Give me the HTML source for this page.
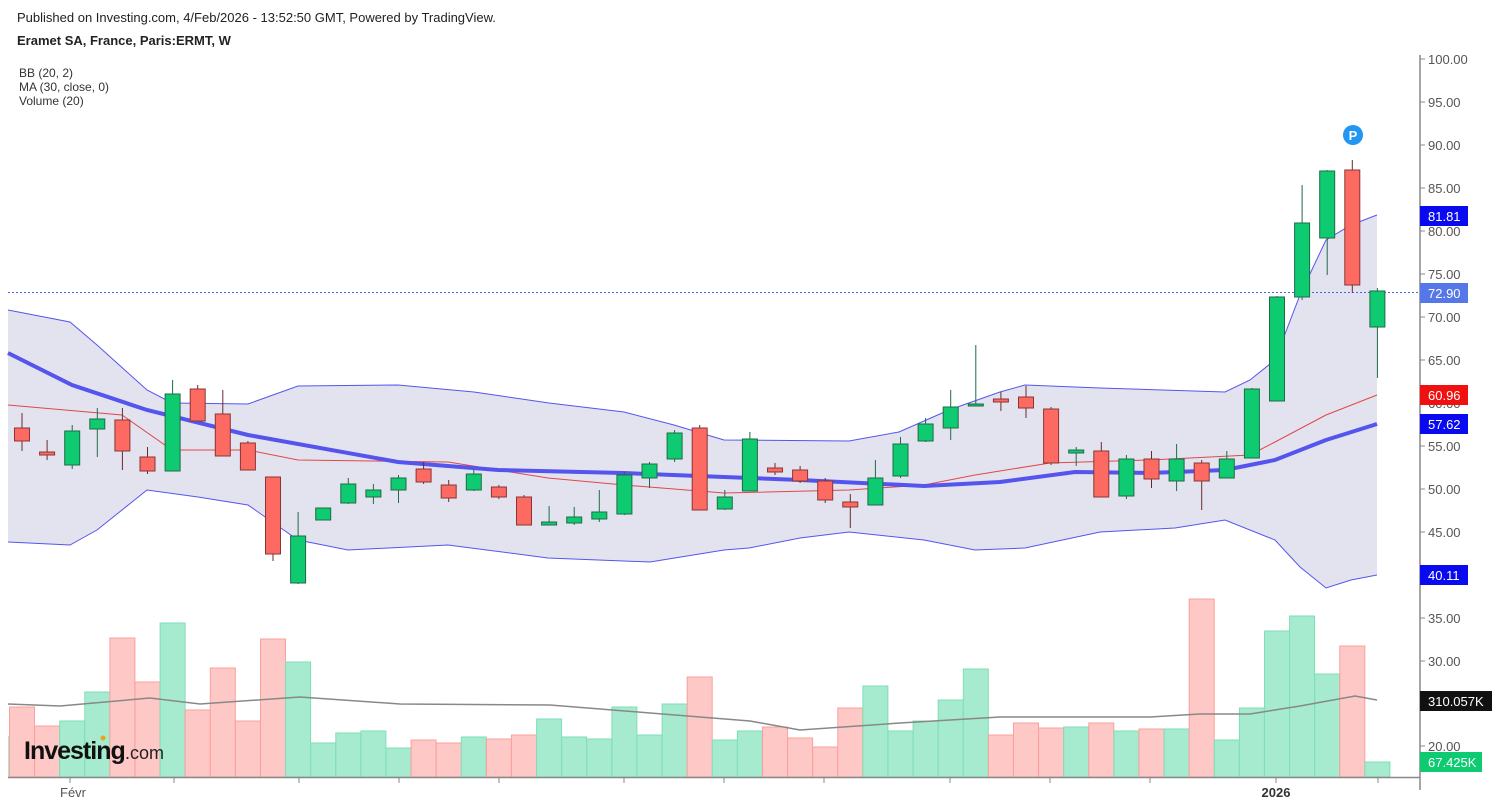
<!DOCTYPE html>
<html><head><meta charset="utf-8"><style>
body{margin:0;background:#fff;width:1500px;height:807px;overflow:hidden;font-family:"Liberation Sans",Arial,sans-serif}
</style></head><body>
<svg id="s" width="1500" height="807" xmlns="http://www.w3.org/2000/svg" font-family="Liberation Sans, Arial, sans-serif"></svg>
<script>
const s=document.getElementById('s');let h='';
h+='<text x="17" y="22" font-size="13" fill="#222">Published on Investing.com, 4/Feb/2026 - 13:52:50 GMT, Powered by TradingView.</text>';
h+='<text x="17" y="45" font-size="13" font-weight="bold" fill="#222">Eramet SA, France, Paris:ERMT, W</text>';
h+='<text x="19" y="77" font-size="12" fill="#333">BB (20, 2)</text><text x="19" y="91" font-size="12" fill="#333">MA (30, close, 0)</text><text x="19" y="105" font-size="12" fill="#333">Volume (20)</text>';
const X=i=>22+i*25.1;
const cl=['r','r','g','g','r','r','g','r','r','r','r','g','g','g','g','g','r','r','g','r','r','g','g','g','g','g','g','r','g','g','r','r','r','r','g','g','g','g','g','r','r','r','g','r','g','r','g','r','g','g','g','g','g','r','g'];
const vt=[707,726,721,692,638,682,623,710,668,721,639,662,743,733,731,748,740,743,737,739,735,719,737,739,707,735,704,677,740,731,727,738,747,708,686,731,721,700,669,735,723,728,727,723,731,729,729,599,740,708,631,616,674,646,762];
h+='<rect x="8" y="736" width="2" height="41" fill="#a6ebcf"/>';
vt.forEach((t,i)=>{const g=cl[i]=='g';h+=`<rect x="${X(i)-12.5}" y="${t}" width="25" height="${777-t}" fill="${g?'#a6ebcf':'#fec8c6'}" stroke="${g?'#7fdfb5':'#fba09c'}" stroke-width="1"/>`;});
const pl=(pts,st,w,f)=>`<polyline points="${pts.map(p=>p.join(',')).join(' ')}" fill="${f||'none'}" stroke="${st}" stroke-width="${w}"/>`;
h+=pl([[8,704],[60,706],[150,698],[200,704],[300,697],[400,704],[550,705],[650,713],[750,721],[800,730],[900,723],[1000,717],[1150,717],[1200,714],[1250,714],[1300,706],[1355,696],[1377,700]],'#888',1.5);
const up=[[8,310],[70,322],[97,345],[147,390],[172,403],[248,404],[298,386],[398,385],[474,392],[549,403],[624,412],[674,425],[724,440],[849,441],[899,432],[949,410],[1000,392],[1025,385],[1100,388],[1225,392],[1250,380],[1275,360],[1300,295],[1326,240],[1351,225],[1377,215]];
const lo=[[8,542],[70,545],[97,530],[147,490],[198,497],[248,505],[298,540],[348,550],[448,545],[548,558],[650,562],[724,550],[749,548],[800,538],[849,532],[924,540],[975,550],[1025,548],[1100,532],[1175,528],[1225,520],[1275,540],[1300,567],[1326,588],[1351,580],[1377,575]];
h+=`<polygon points="${up.concat(lo.slice().reverse()).map(p=>p.join(',')).join(' ')}" fill="#e3e3f0"/>`;
h+=pl(up,'#5555ee',1)+pl(lo,'#5555ee',1);
h+=pl([[8,405],[122,415],[172,450],[248,450],[298,460],[448,462],[548,478],[624,485],[724,493],[849,490],[924,485],[975,475],[1050,463],[1150,460],[1250,455],[1275,442],[1326,415],[1377,395]],'#e04848',1);
h+=pl([[8,353],[72,385],[147,410],[248,435],[398,462],[498,470],[624,473],[724,477],[800,480],[924,486],[1000,482],[1075,472],[1150,473],[1225,470],[1275,460],[1326,440],[1377,424]],'#5555ee',4);
h+='<line x1="8" y1="292.5" x2="1420" y2="292.5" stroke="#4466ee" stroke-dasharray="2,2"/>';
const cd=[[428,441,413,451],[452,455,440,460],[431,465,425,469],[419,429,408,457],[420,451,408,470],[457,471,447,474],[394,471,380,471],[389,421,385,421],[414,456,390,456],[443,470,441,470],[477,554,477,561],[536,583,512,584],[508,520,508,520],[484,503,478,504],[490,497,484,504],[478,490,475,503],[469,482,462,484],[485,498,480,502],[474,490,470,491],[487,497,485,499],[497,525,495,525],[522,525,506,525],[517,523,507,525],[512,519,490,522],[475,514,472,515],[464,478,462,488],[433,459,430,462],[428,510,425,510],[497,509,490,510],[439,491,432,491],[468,472,463,475],[470,481,466,483],[481,500,478,503],[502,507,494,528],[478,505,460,505],[444,476,437,478],[424,441,418,442],[407,428,390,440],[404,406,345,406],[399,402,392,411],[397,408,386,418],[409,463,407,465],[450,453,447,466],[451,497,442,497],[459,496,455,499],[459,479,451,488],[459,481,444,491],[463,481,460,510],[459,478,451,478],[389,458,388,458],[297,401,296,401],[223,297,185,300],[171,238,170,275],[170,285,160,293],[291,327,288,378]];
cd.forEach((c,i)=>{const x=X(i),g=cl[i]=='g';const st=g?'#1e6b45':'#8a3535';
h+=`<line x1="${x}" y1="${c[2]}" x2="${x}" y2="${c[3]}" stroke="${g?'#1e6b45':'#6b2a2a'}" stroke-width="1"/>`;
h+=`<rect x="${x-7.5}" y="${c[0]}" width="15" height="${Math.max(2,c[1]-c[0])}" fill="${g?'#0ecb72':'#fc6a62'}" stroke="${st}" stroke-width="1"/>`;});
h+='<circle cx="1353" cy="135" r="10" fill="#2196f3"/><text x="1353" y="140" font-size="13" font-weight="bold" fill="#fff" text-anchor="middle">P</text>';
h+='<line x1="1420" y1="55" x2="1420" y2="790" stroke="#888" stroke-width="1.5"/><line x1="8" y1="777.5" x2="1420" y2="777.5" stroke="#888" stroke-width="1.5"/>';
for(let p=100;p>=45;p-=5){const y=59+(100-p)*8.6;h+=`<line x1="1420" y1="${y}" x2="1425" y2="${y}" stroke="#888"/><text x="1428" y="${y+5}" font-size="13" fill="#555">${p.toFixed(2)}</text>`;}
[[35,618],[30,661],[25,704],[20,746]].forEach(([v,y])=>{h+=`<line x1="1420" y1="${y}" x2="1425" y2="${y}" stroke="#888"/><text x="1428" y="${y+5}" font-size="13" fill="#555">${v.toFixed(2)}</text>`;});
const bd=(y,t,bg,w)=>{h+=`<rect x="1420" y="${y-10}" width="${w||48}" height="20" fill="${bg}"/><text x="1428" y="${y+5}" font-size="13" fill="#fff">${t}</text>`;};
bd(216,'81.81','#0a0af0');bd(293,'72.90','#5577e8');bd(395,'60.96','#f01010');bd(424,'57.62','#0a0af0');bd(575,'40.11','#0a0af0');bd(701,'310.057K','#111',72);bd(762,'67.425K','#0ecb72',62);
[70,174,299,399,499,624,724,824,950,1050,1150,1276,1378].forEach(x=>{h+=`<line x1="${x}" y1="778" x2="${x}" y2="783" stroke="#888"/>`;});
h+='<text x="73" y="797" font-size="13" fill="#555" text-anchor="middle">Févr</text><text x="1276" y="797" font-size="13" font-weight="bold" fill="#333" text-anchor="middle">2026</text>';
h+='<text x="24" y="759" font-size="25" font-weight="bold" fill="#111" letter-spacing="-1">Investing</text><text x="125" y="759" font-size="18" fill="#222">.com</text><circle cx="103" cy="738" r="2.5" fill="#f0a020"/>';
s.innerHTML=h;
</script>
</body></html>
